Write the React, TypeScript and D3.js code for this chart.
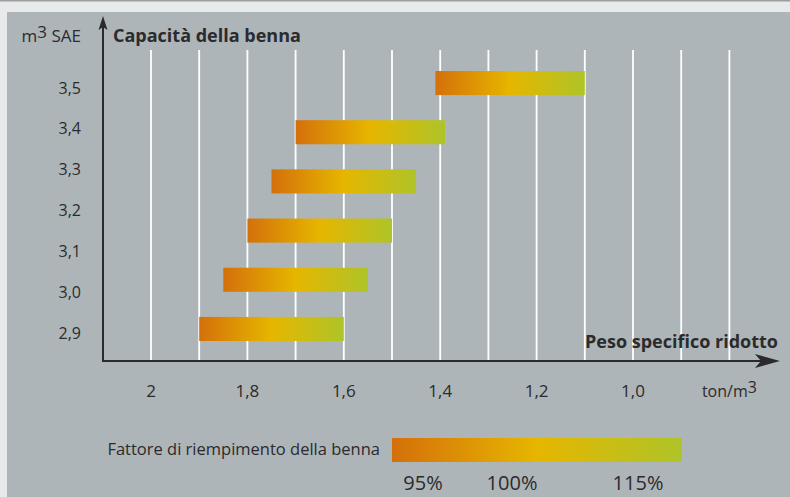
import React from 'react'
import * as d3 from 'd3'

// bars: specific weight range (ton/m3) covered by each bucket, top to bottom
const barIds = ['b1', 'b2', 'b3', 'b4', 'b5', 'b6']
const barFrom = [1.41, 1.70, 1.75, 1.80, 1.85, 1.90]
const barTo = [1.10, 1.39, 1.45, 1.50, 1.55, 1.60]

const yTicks = [3.5, 3.4, 3.3, 3.2, 3.1, 3.0, 2.9]
const xTickValues = [2.0, 1.8, 1.6, 1.4, 1.2, 1.0]
const xTickLabels = ['2', '1,8', '1,6', '1,4', '1,2', '1,0']
const gridValues = d3.range(20, 7, -1).map(v => v / 10)

const legendPct = [95, 100, 115]

const W = 790
const H = 497
const font = '"Open Sans", Lato, sans-serif'
const ink = '#2b2b2d'

export default function App() {
  const x = d3.scaleLinear().domain([2.0, 1.0]).range([151, 633])
  const yLab = d3.scaleLinear().domain([2.9, 3.5]).range([333, 88])
  const yBar = d3.scaleBand().domain(barIds).range([71, 341]).paddingInner(0.51).paddingOuter(0)
  const legX = d3.scaleLinear().domain([95, 100, 115]).range([423, 512, 638])

  const axisX = 103
  const axisY = 361
  const gridTop = 50

  const fmt = (v: number) => d3.format('.1f')(v).replace('.', ',')

  return (
    <div style={{ position: 'absolute', left: 0, top: 0 }}>
      <svg width={W} height={H} style={{ display: 'block', fontFamily: font }}>
        <defs>
          <linearGradient id="fill" x1="0" x2="1" y1="0" y2="0">
            <stop offset="0" stopColor="#d4700a" />
            <stop offset="0.5" stopColor="#e6b600" />
            <stop offset="1" stopColor="#aec428" />
          </linearGradient>
        </defs>
        <rect x={0} y={0} width={W} height={H} fill="#e8e9eb" />
        <rect x={0} y={0} width={W} height={1.5} fill="#9b9c9e" />
        <rect x={7} y={12} width={W - 7} height={H - 12} fill="#aeb5b8" />

        {/* grid */}
        {gridValues.map(v => (
          <line key={v} x1={x(v)} x2={x(v)} y1={gridTop} y2={axisY}
            stroke="#fff" strokeWidth={1.8} />
        ))}

        {/* bars */}
        {barIds.map((id, i) => (
          <rect key={id} x={x(barFrom[i])} y={yBar(id)}
            width={x(barTo[i]) - x(barFrom[i])} height={yBar.bandwidth()}
            fill="url(#fill)" />
        ))}

        {/* axes */}
        <line x1={axisX} x2={axisX} y1={26} y2={axisY + 1} stroke={ink} strokeWidth={2} />
        <path d={`M${axisX},16 L${axisX + 4.5},30 L${axisX},27 L${axisX - 4.5},30 Z`} fill={ink} />
        <line x1={axisX - 1} x2={770} y1={axisY} y2={axisY} stroke={ink} strokeWidth={2} />
        <path d={`M780,${axisY} L755,${axisY - 7} L761,${axisY} L755,${axisY + 7} Z`} fill={ink} />

        {/* y labels */}
        {yTicks.map(v => (
          <text key={v} x={81} y={yLab(v)} dy="0.35em" textAnchor="end"
            fontSize={16} fill={ink}>{fmt(v)}</text>
        ))}
        <text x={81} y={42} textAnchor="end" fontSize={17} fill={ink}>
          m<tspan dy={-4} fontSize={17}>3</tspan><tspan dy={4}> SAE</tspan>
        </text>
        <text x={113} y={42} fontSize={18} fontWeight="bold" fill={ink}>Capacità della benna</text>

        {/* x labels */}
        {xTickValues.map((v, i) => (
          <text key={v} x={x(v)} y={397} textAnchor="middle" fontSize={17} fill={ink}>
            {xTickLabels[i]}
          </text>
        ))}
        <text x={x(0.8)} y={397} textAnchor="middle" fontSize={16} fill={ink}>
          ton/m<tspan dy={-4} fontSize={16}>3</tspan>
        </text>
        <text x={778} y={348} textAnchor="end" fontSize={18} fontWeight="bold" fill={ink}>
          Peso specifico ridotto
        </text>

        {/* legend */}
        <text x={380} y={455} textAnchor="end" fontSize={16.5} fill={ink}>
          Fattore di riempimento della benna
        </text>
        <rect x={392} y={438} width={290} height={24} fill="url(#fill)" />
        {legendPct.map(p => (
          <text key={p} x={legX(p)} y={490} textAnchor="middle" fontSize={20} fill={ink}>
            {p}%
          </text>
        ))}
      </svg>
    </div>
  )
}
